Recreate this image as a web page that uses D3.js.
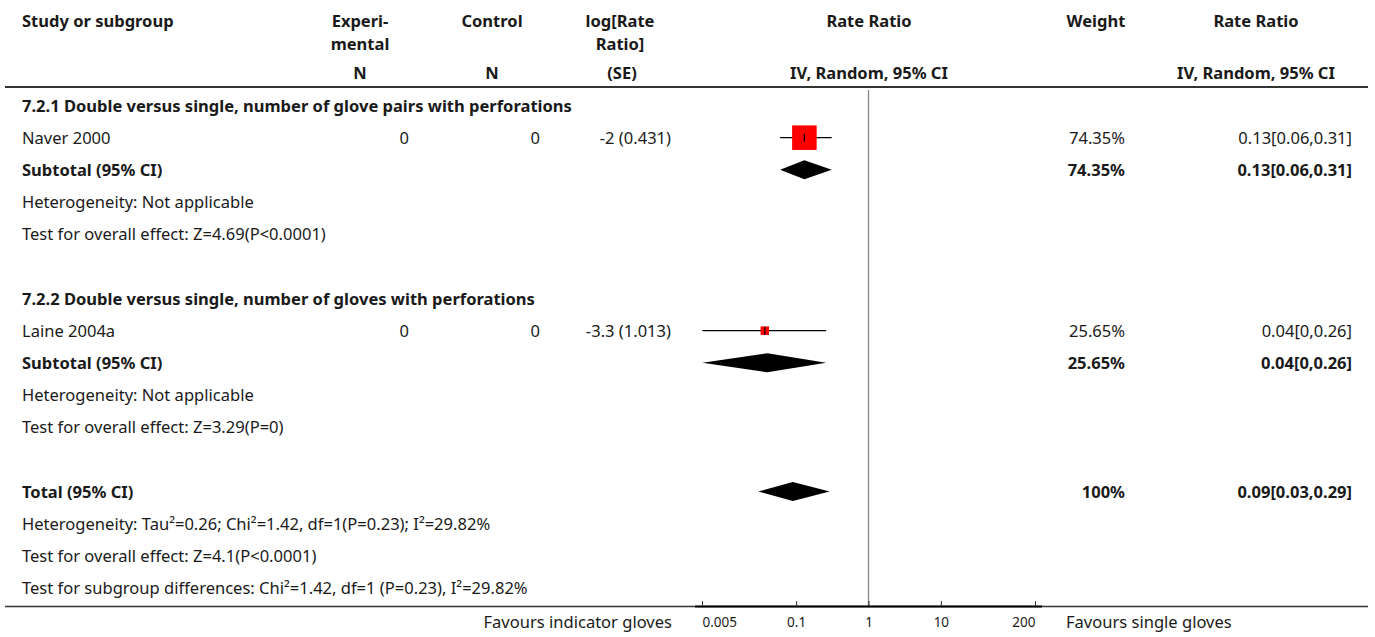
<!DOCTYPE html>
<html><head><meta charset="utf-8">
<script src="https://cdn.jsdelivr.net/npm/d3@7"></script>
<style>
body{margin:0;background:#fff;}
svg{display:block;}
text{font-family:"Noto Sans",sans-serif;fill:#1a1a1a;}
</style></head><body>
<svg id="c" width="1375" height="637"></svg>
<script>
// ---- data ----
const studyNames = ["Naver 2000", "Laine 2004a"];
const expN = ["0", "0"];
const ctlN = ["0", "0"];
const logRRse = ["-2 (0.431)", "-3.3 (1.013)"];
const studyRR = [0.13, 0.0369];
const studyLo = [0.06, 0.00506];
const studyHi = [0.31, 0.26];
const studyWeight = [74.35, 25.65];
const studyCI = ["0.13[0.06,0.31]", "0.04[0,0.26]"];
const subgroupTitles = ["7.2.1 Double versus single, number of glove pairs with perforations",
                        "7.2.2 Double versus single, number of gloves with perforations"];
const subtotalRR = [0.13, 0.04];
const subtotalLo = [0.06, 0.00506];
const subtotalHi = [0.31, 0.26];
const subtotalWeight = ["74.35%", "25.65%"];
const subtotalCI = ["0.13[0.06,0.31]", "0.04[0,0.26]"];
const subHet = ["Heterogeneity: Not applicable", "Heterogeneity: Not applicable"];
const subTest = ["Test for overall effect: Z=4.69(P<0.0001)", "Test for overall effect: Z=3.29(P=0)"];
const totalRR = 0.09, totalLo = 0.03, totalHi = 0.29;
const totalText = ["Heterogeneity: Tau\u00B2=0.26; Chi\u00B2=1.42, df=1(P=0.23); I\u00B2=29.82%",
                   "Test for overall effect: Z=4.1(P<0.0001)",
                   "Test for subgroup differences: Chi\u00B2=1.42, df=1 (P=0.23), I\u00B2=29.82%"];
const tickValues = [0.005, 0.1, 1, 10, 200];
const tickLabels = ["0.005", "0.1", "1", "10", "200"];
const favoursLeft = "Favours indicator gloves";
const favoursRight = "Favours single gloves";

// ---- layout ----
const svg = d3.select("#c");
const x = d3.scaleLog().domain([0.005, 200]).range([702, 1035]);
const y = d3.scaleLinear().domain([0, 15]).range([105.5, 588]);
const box = d3.scaleLinear().domain([0, 100]).range([0, 33]);

// calibrate font sizes so line widths match the reference layout
function measure(t, bold) {
  const n = svg.append("text").attr("font-size", 100).attr("font-weight", bold ? "bold" : "normal").text(t);
  const w = n.node().getComputedTextLength(); n.remove(); return w;
}
const FS = 100 * 506 / measure(totalText[2], false);
const FB = 100 * 550 / measure(subgroupTitles[0], true);

function txt(t, xx, yy, anchor, bold, size) {
  return svg.append("text").attr("x", xx).attr("y", yy + 6)
    .attr("text-anchor", anchor || "start")
    .attr("font-size", size || (bold ? FB : FS))
    .attr("font-weight", bold ? "bold" : "normal")
    .text(t);
}

// header
txt("Study or subgroup", 22, 21, "start", true);
txt("Experi-", 360, 21, "middle", true); txt("mental", 360, 44, "middle", true);
txt("Control", 492, 21, "middle", true);
txt("log[Rate", 620, 21, "middle", true); txt("Ratio]", 620, 44, "middle", true);
txt("Rate Ratio", 869, 21, "middle", true);
txt("Weight", 1096, 21, "middle", true);
txt("Rate Ratio", 1256, 21, "middle", true);
txt("N", 360, 73, "middle", true);
txt("N", 492, 73, "middle", true);
txt("(SE)", 622, 73, "middle", true);
txt("IV, Random, 95% CI", 869, 73, "middle", true);
txt("IV, Random, 95% CI", 1256, 73, "middle", true);
svg.append("line").attr("x1", 5).attr("x2", 1368).attr("y1", 87).attr("y2", 87)
  .attr("stroke", "#333").attr("stroke-width", 2);

// null line
svg.append("line").attr("x1", x(1)).attr("x2", x(1)).attr("y1", 90).attr("y2", 606)
  .attr("stroke", "#888").attr("stroke-width", 1.3);

function diamond(rr, lo, hi, yy) {
  const h = 9.5;
  svg.append("path")
    .attr("d", `M${x(lo)},${yy} L${x(rr)},${yy - h} L${x(hi)},${yy} L${x(rr)},${yy + h} Z`)
    .attr("fill", "#000");
}

// subgroups
for (let g = 0; g < 2; g++) {
  const base = g * 6;
  txt(subgroupTitles[g], 22, y(base), "start", true);
  const ys = y(base + 1);
  txt(studyNames[g], 22, ys, "start", false);
  txt(expN[g], 409, ys, "end", false);
  txt(ctlN[g], 540, ys, "end", false);
  txt(logRRse[g], 671, ys, "end", false);
  txt(studyWeight[g].toFixed(2) + "%", 1125, ys, "end", false);
  txt(studyCI[g], 1352, ys, "end", false);
  svg.append("line").attr("x1", x(studyLo[g])).attr("x2", x(studyHi[g]))
    .attr("y1", ys).attr("y2", ys).attr("stroke", "#000").attr("stroke-width", 1.3);
  const s = box(studyWeight[g]);
  svg.append("rect").attr("x", x(studyRR[g]) - s / 2).attr("y", ys - s / 2)
    .attr("width", s).attr("height", s).attr("fill", "#ff0000");
  svg.append("line").attr("x1", x(studyRR[g])).attr("x2", x(studyRR[g]))
    .attr("y1", ys - 4).attr("y2", ys + 4).attr("stroke", "#000").attr("stroke-width", 1.2);

  const yt = y(base + 2);
  txt("Subtotal (95% CI)", 22, yt, "start", true);
  txt(subtotalWeight[g], 1125, yt, "end", true);
  txt(subtotalCI[g], 1352, yt, "end", true);
  diamond(subtotalRR[g], subtotalLo[g], subtotalHi[g], yt);
  txt(subHet[g], 22, y(base + 3), "start", false);
  txt(subTest[g], 22, y(base + 4), "start", false);
}

// total
const yT = y(12);
txt("Total (95% CI)", 22, yT, "start", true);
txt("100%", 1125, yT, "end", true);
txt("0.09[0.03,0.29]", 1352, yT, "end", true);
diamond(totalRR, totalLo, totalHi, yT);
totalText.forEach((t, i) => txt(t, 22, y(13 + i), "start", false));

// bottom line and axis
svg.append("line").attr("x1", 5).attr("x2", 1368).attr("y1", 606.5).attr("y2", 606.5)
  .attr("stroke", "#333").attr("stroke-width", 1.5);
svg.append("line").attr("x1", 695).attr("x2", 1042).attr("y1", 606.5).attr("y2", 606.5)
  .attr("stroke", "#000").attr("stroke-width", 2);
const axisG = svg.append("g").attr("transform", "translate(0,606)");
const axis = d3.axisTop(x).tickValues(tickValues).tickSize(5)
  .tickFormat((d, i) => tickLabels[i]);
axisG.call(axis);
axisG.select(".domain").remove();
axisG.attr("font-size", 13.5).attr("font-family", "'Noto Sans',sans-serif");
axisG.selectAll(".tick line").attr("stroke", "#333");
const nT = tickValues.length;
axisG.selectAll(".tick text").attr("y", 21).attr("dy", 0)
  .attr("font-size", 13.5).style("font-size", "13.5px")
  .attr("fill", "#1a1a1a")
  .attr("text-anchor", (d, i) => i === 0 ? "start" : (i === nT - 1 ? "end" : "middle"));
txt(favoursLeft, 672, 622, "end", false);
txt(favoursRight, 1066, 622, "start", false);
</script></body></html>
